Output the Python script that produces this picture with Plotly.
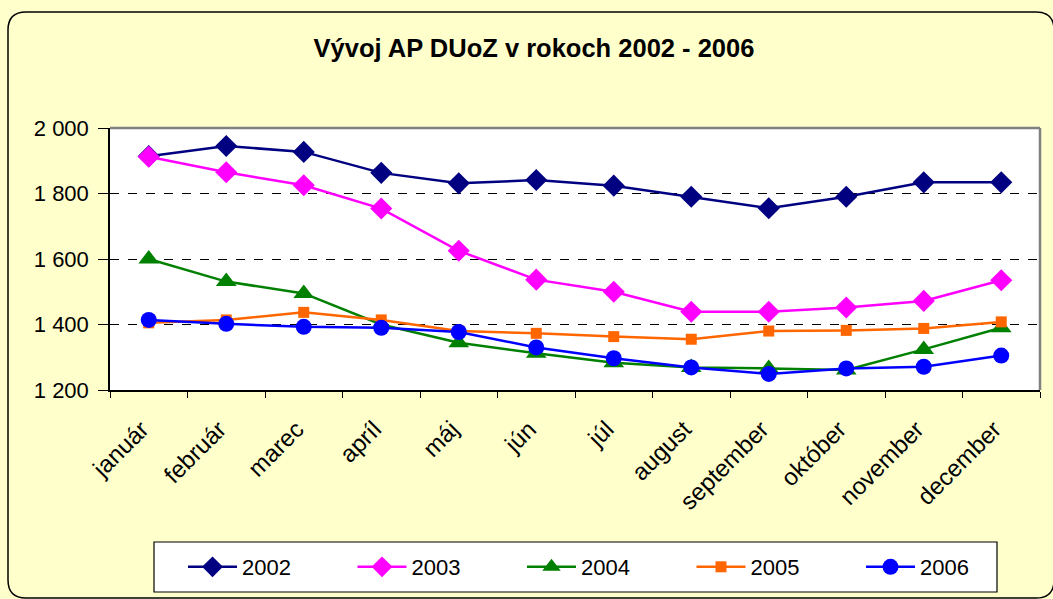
import plotly.graph_objects as go

months = ["január", "február", "marec", "apríl", "máj", "jún", "júl",
          "august", "september", "október", "november", "december"]
y2002 = [1914, 1945, 1927, 1863, 1831, 1841, 1824, 1790, 1755, 1790, 1834, 1834]
y2003 = [1912, 1865, 1825, 1754, 1625, 1537, 1500, 1439, 1439, 1452, 1472, 1535]
y2004 = [1600, 1531, 1495, 1400, 1344, 1312, 1283, 1269, 1266, 1261, 1324, 1390]
y2005 = [1405, 1414, 1437, 1414, 1380, 1373, 1363, 1355, 1380, 1382, 1388, 1408]
y2006 = [1414, 1402, 1393, 1390, 1377, 1330, 1297, 1269, 1249, 1266, 1271, 1305]
series_names = ["2002", "2003", "2004", "2005", "2006"]
ytick_vals = [1200, 1400, 1600, 1800, 2000]
ytick_text = ["1 200", "1 400", "1 600", "1 800", "2 000"]

W, H = 1053, 599
L, R, T, B = 110, 1040, 128, 390

def px(x):
    return (x - L) / (R - L)

def py(y):
    return (B - y) / (B - T)

styles = [
    dict(color="#000080", symbol="diamond", size=17),
    dict(color="#FF00FF", symbol="diamond", size=17),
    dict(color="#008000", symbol="triangle-up", size=18),
    dict(color="#FF6600", symbol="square", size=11),
    dict(color="#0000FF", symbol="circle", size=16),
]

fig = go.Figure()
for name, ys, st in zip(series_names, [y2002, y2003, y2004, y2005, y2006], styles):
    fig.add_trace(go.Scatter(
        x=months, y=ys, name=name, mode="lines+markers",
        line=dict(color=st["color"], width=2.5),
        marker=dict(symbol=st["symbol"], size=st["size"], color=st["color"],
                    line=dict(width=0)),
    ))

font = "Liberation Sans, Arial, sans-serif"

# outer rounded border
x0, y0, x1, y1, r = 8, 12, 1054, 598, 18
path = (f"M {px(x0+r)},{py(y0)} L {px(x1-r)},{py(y0)} Q {px(x1)},{py(y0)} {px(x1)},{py(y0+r)} "
        f"L {px(x1)},{py(y1-r)} Q {px(x1)},{py(y1)} {px(x1-r)},{py(y1)} "
        f"L {px(x0+r)},{py(y1)} Q {px(x0)},{py(y1)} {px(x0)},{py(y1-r)} "
        f"L {px(x0)},{py(y0+r)} Q {px(x0)},{py(y0)} {px(x0+r)},{py(y0)} Z")

shapes = [
    dict(type="path", xref="paper", yref="paper", path=path,
         line=dict(color="black", width=1.5), layer="above"),
    dict(type="line", xref="paper", yref="paper", x0=0, x1=1, y0=1, y1=1,
         line=dict(color="#808080", width=2.5), layer="above"),
    dict(type="line", xref="paper", yref="paper", x0=1, x1=1, y0=0, y1=1,
         line=dict(color="#808080", width=2.5), layer="above"),
    # legend box
    dict(type="rect", xref="paper", yref="paper",
         x0=px(154), x1=px(997), y0=py(592), y1=py(542),
         fillcolor="white", line=dict(color="black", width=1.2), layer="below"),
]

fig.update_layout(
    width=W, height=H,
    margin=dict(l=L, r=W - R, t=T, b=H - B, autoexpand=False),
    paper_bgcolor="#FFFFCC", plot_bgcolor="white",
    font=dict(family=font, size=22, color="black"),
    title=dict(text="<b>Vývoj AP DUoZ v rokoch 2002 - 2006</b>",
               x=534 / W, xref="container", xanchor="center",
               y=1 - 48 / H, yanchor="middle",
               font=dict(family=font, size=25.5, color="black")),
    shapes=shapes,
    showlegend=True,
    legend=dict(orientation="h", x=px(183), xanchor="left",
                y=py(567), yanchor="middle",
                bgcolor="rgba(0,0,0,0)", borderwidth=0,
                entrywidth=105.5, entrywidthmode="pixels",
                font=dict(family=font, size=22, color="black"),
                itemwidth=49),
)
fig.update_xaxes(
    type="category", range=[-0.5, 11.5], automargin=False,
    showline=True, linecolor="black", linewidth=1.5,
    ticks="outside", tickson="boundaries", ticklen=6, tickcolor="black",
    tickangle=-45, showgrid=False, zeroline=False,
    ticklabelstandoff=14, ticklabelshift=-7,
    tickfont=dict(family=font, size=24),
)
fig.update_yaxes(
    range=[1200, 2000], tickvals=ytick_vals, ticktext=ytick_text, automargin=False,
    showline=True, linecolor="black", linewidth=1.5,
    ticks="outside", ticklen=10, tickcolor="black",
    ticklabelstandoff=5,
    showgrid=True, gridcolor="black", griddash="dash", gridwidth=1,
    zeroline=False, tickfont=dict(family=font, size=22),
)

fig.write_html("out.html", config={"displayModeBar": False},
               post_script="document.body.style.margin='0';")
